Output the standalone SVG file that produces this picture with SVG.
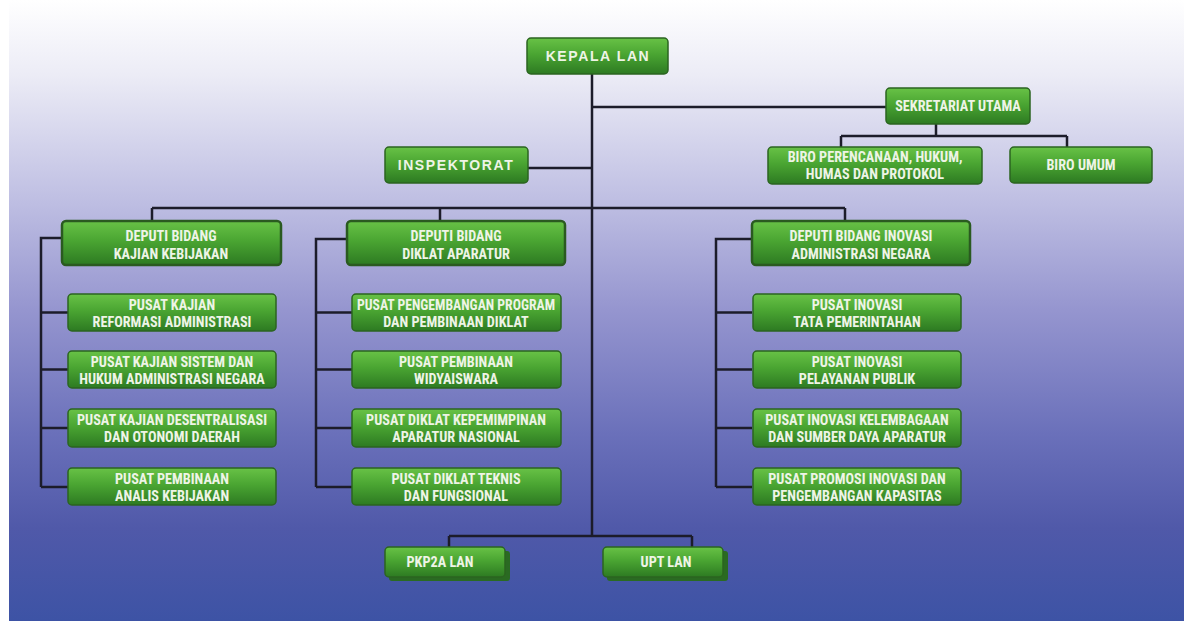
<svg xmlns="http://www.w3.org/2000/svg" width="1184" height="621" viewBox="0 0 1184 621">
<defs>
<linearGradient id="bg" x1="0" y1="0" x2="0" y2="1">
<stop offset="0" stop-color="#ffffff"/>
<stop offset="0.12" stop-color="#ececf6"/>
<stop offset="0.33" stop-color="#bdbde2"/>
<stop offset="0.5" stop-color="#9595cf"/>
<stop offset="0.7" stop-color="#6a70ba"/>
<stop offset="0.85" stop-color="#5059a9"/>
<stop offset="1" stop-color="#3d53a5"/>
</linearGradient>
<linearGradient id="gb" x1="0" y1="0" x2="0" y2="1">
<stop offset="0" stop-color="#68c246"/>
<stop offset="0.45" stop-color="#4aa532"/>
<stop offset="1" stop-color="#2d7a22"/>
</linearGradient>
<style>
.box{fill:url(#gb);stroke:#2b6420;stroke-width:1.5}
.dep{fill:url(#gb);stroke:#2a5a20;stroke-width:2.5}
.sh{fill:#2a6a22}
.t{font-family:"Liberation Sans Narrow","Roboto Condensed","Liberation Sans",Arial,sans-serif;font-weight:bold;font-size:14.2px;fill:#eef4e6;text-anchor:middle}
.tw{font-family:"Liberation Sans",Arial,sans-serif;font-weight:bold;font-size:14px;fill:#eef4e6;text-anchor:middle;letter-spacing:1.6px}
.c{fill:none;stroke:#1c1c2a;stroke-width:2.5}
</style>
</defs>
<rect x="0" y="0" width="1184" height="621" fill="#ffffff"/>
<rect x="9" y="0" width="1175" height="621" fill="url(#bg)"/>

<g id="connectors">
<path class="c" d="M592 74V536M592 107H886M936 124V136M841 136H1067M841 136V147M1067 136V147M528 168H592M152 208H845M152 208V221M440 208V221M845 208V221"/>
<path class="c" d="M62 238H41V487M41 312.5H68M41 369.5H68M41 428H68M41 487H68"/>
<path class="c" d="M347 239H316V487M316 312.5H352M316 369.5H352M316 428H352M316 487H352"/>
<path class="c" d="M752 239H716V487M716 312.5H752M716 369.5H752M716 428H752M716 487H752"/>
<path class="c" d="M449 536H692M449 536V547M692 536V547"/>
</g>

<g id="kepala"><rect class="box" x="527" y="38" width="141" height="36" rx="4"/><text class="tw" x="598" y="61">KEPALA LAN</text></g>
<g id="sekretariat"><rect class="box" x="886" y="88" width="144" height="36" rx="4"/><text class="t" x="958" y="111">SEKRETARIAT UTAMA</text></g>
<g id="biro-perencanaan"><rect class="box" x="768" y="147" width="214" height="37" rx="4"/><text class="t" x="875" y="162">BIRO PERENCANAAN, HUKUM,</text><text class="t" x="875" y="179">HUMAS DAN PROTOKOL</text></g>
<g id="biro-umum"><rect class="box" x="1010" y="147" width="142" height="36" rx="4"/><text class="t" x="1081" y="170">BIRO UMUM</text></g>
<g id="inspektorat"><rect class="box" x="385" y="147" width="143" height="36" rx="4"/><text class="tw" x="456" y="170">INSPEKTORAT</text></g>

<g id="deputi-kajian"><rect class="dep" x="62" y="221" width="219" height="44" rx="4"/><text class="t" x="171" y="241">DEPUTI BIDANG</text><text class="t" x="171" y="259">KAJIAN KEBIJAKAN</text></g>
<g id="deputi-diklat"><rect class="dep" x="347" y="221" width="218" height="44" rx="4"/><text class="t" x="456" y="241">DEPUTI BIDANG</text><text class="t" x="456" y="259">DIKLAT APARATUR</text></g>
<g id="deputi-inovasi"><rect class="dep" x="752" y="221" width="218" height="44" rx="4"/><text class="t" x="861" y="241">DEPUTI BIDANG INOVASI</text><text class="t" x="861" y="259">ADMINISTRASI NEGARA</text></g>

<g id="pusat-reformasi"><rect class="box" x="68" y="294" width="208" height="37" rx="4"/><text class="t" x="172" y="310">PUSAT KAJIAN</text><text class="t" x="172" y="327">REFORMASI ADMINISTRASI</text></g>
<g id="pusat-sistem-hukum"><rect class="box" x="68" y="351" width="208" height="37" rx="4"/><text class="t" x="172" y="367">PUSAT KAJIAN SISTEM DAN</text><text class="t" x="172" y="384">HUKUM ADMINISTRASI NEGARA</text></g>
<g id="pusat-desentralisasi"><rect class="box" x="68" y="409" width="208" height="38" rx="4"/><text class="t" x="172" y="425">PUSAT KAJIAN DESENTRALISASI</text><text class="t" x="172" y="442">DAN OTONOMI DAERAH</text></g>
<g id="pusat-analis"><rect class="box" x="68" y="468" width="208" height="37" rx="4"/><text class="t" x="172" y="484">PUSAT PEMBINAAN</text><text class="t" x="172" y="501">ANALIS KEBIJAKAN</text></g>

<g id="pusat-program"><rect class="box" x="352" y="294" width="209" height="37" rx="4"/><text class="t" x="456" y="310" textLength="198" lengthAdjust="spacingAndGlyphs">PUSAT PENGEMBANGAN PROGRAM</text><text class="t" x="456" y="327">DAN PEMBINAAN DIKLAT</text></g>
<g id="pusat-widyaiswara"><rect class="box" x="352" y="351" width="209" height="37" rx="4"/><text class="t" x="456" y="367">PUSAT PEMBINAAN</text><text class="t" x="456" y="384">WIDYAISWARA</text></g>
<g id="pusat-kepemimpinan"><rect class="box" x="352" y="409" width="209" height="38" rx="4"/><text class="t" x="456" y="425">PUSAT DIKLAT KEPEMIMPINAN</text><text class="t" x="456" y="442">APARATUR NASIONAL</text></g>
<g id="pusat-teknis"><rect class="box" x="352" y="468" width="209" height="37" rx="4"/><text class="t" x="456" y="484">PUSAT DIKLAT TEKNIS</text><text class="t" x="456" y="501">DAN FUNGSIONAL</text></g>

<g id="pusat-tata"><rect class="box" x="753" y="294" width="208" height="37" rx="4"/><text class="t" x="857" y="310">PUSAT INOVASI</text><text class="t" x="857" y="327">TATA PEMERINTAHAN</text></g>
<g id="pusat-pelayanan"><rect class="box" x="753" y="351" width="208" height="37" rx="4"/><text class="t" x="857" y="367">PUSAT INOVASI</text><text class="t" x="857" y="384">PELAYANAN PUBLIK</text></g>
<g id="pusat-kelembagaan"><rect class="box" x="753" y="409" width="208" height="38" rx="4"/><text class="t" x="857" y="425">PUSAT INOVASI KELEMBAGAAN</text><text class="t" x="857" y="442">DAN SUMBER DAYA APARATUR</text></g>
<g id="pusat-promosi"><rect class="box" x="753" y="468" width="208" height="37" rx="4"/><text class="t" x="857" y="484">PUSAT PROMOSI INOVASI DAN</text><text class="t" x="857" y="501">PENGEMBANGAN KAPASITAS</text></g>

<g id="pkp2a"><rect class="sh" x="389" y="551" width="121" height="30" rx="3"/><rect class="box" x="385" y="547" width="120" height="30" rx="4"/><text class="t" x="440" y="567">PKP2A LAN</text></g>
<g id="upt"><rect class="sh" x="607" y="551" width="121" height="30" rx="3"/><rect class="box" x="603" y="547" width="120" height="30" rx="4"/><text class="t" x="666" y="567">UPT LAN</text></g>
</svg>
